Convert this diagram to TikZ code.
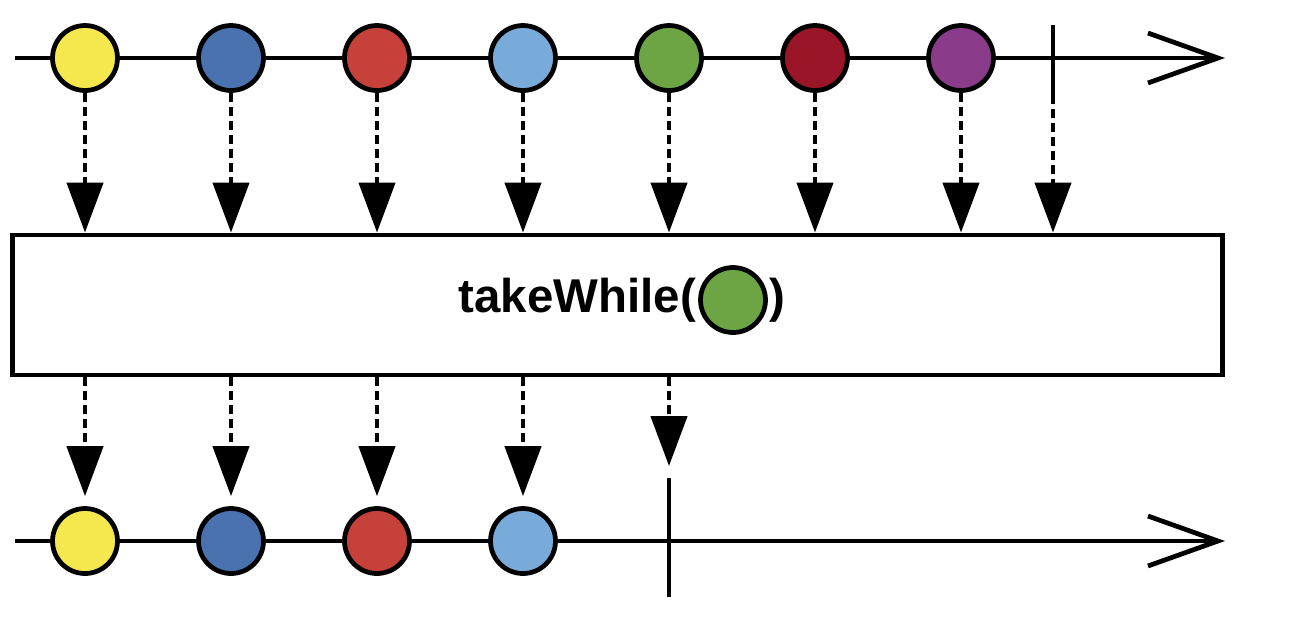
\documentclass[tikz,border=0pt]{standalone}
\usepackage{fontspec}
\setmainfont{Liberation Sans}
\usetikzlibrary{positioning,arrows.meta}

\definecolor{mYellow}{HTML}{F4E84E}
\definecolor{mBlue}{HTML}{4A72AE}
\definecolor{mRed}{HTML}{C5413A}
\definecolor{mSky}{HTML}{78AADA}
\definecolor{mGreen}{HTML}{6DA544}
\definecolor{mWine}{HTML}{9B1528}
\definecolor{mPurple}{HTML}{8A3C8A}

\tikzset{
	marble/.style={circle,draw,line width=2.7pt,minimum size=1.3cm,inner sep=0pt},
	timeline/.style={line width=2.7pt,-{Straight Barb[length=1.4cm,width=1.0cm,line width=2.7pt]}},
	emit/.style={line width=2.5pt,dash pattern=on 0.18cm off 0.1cm,-{Triangle[length=1cm,width=0.72cm]}},
	endtick/.style={line width=2.7pt},
	opbox/.style={draw,line width=2.8pt,minimum width=24.22cm,minimum height=2.8cm,inner sep=0pt}
}

\begin{document}
\begin{tikzpicture}[x=0.02cm,y=-0.02cm]
		\useasboundingbox (0,0) rectangle (1302,620);
		% source stream
		\coordinate (srcA) at (15,58);
		\coordinate (srcB) at (1225,58);
		\draw[timeline] (srcA) -- (srcB);
		\foreach \c [count=\i] in {mYellow,mBlue,mRed,mSky,mGreen,mWine,mPurple}{
			\node[marble,fill=\c] (t\i) at ({85+146*(\i-1)},58) {};
		}
		\coordinate (ttA) at (1053,25);
		\coordinate (ttB) at (1053,95);
		\draw[endtick] (ttA) -- (ttB);
		
		% operator
		\node[opbox] (op) at (617.5,305) {};
		\node[marble,fill=mGreen] (pm) at (733,300) {};
		\node[font=\bfseries\fontsize{27}{30}\selectfont,inner sep=0pt] (lbl) [left=1pt of pm] {takeWhile(};
		\node[font=\bfseries\fontsize{27}{30}\selectfont,inner sep=0pt] (rp) [right=1pt of pm] {)};
		
		\foreach \i in {1,...,7}{
			\draw[emit] (t\i) -- (t\i |- op.north);
		}
		\draw[emit] (ttB) -- (ttB |- op.north);
		
		% result stream
		\coordinate (resA) at (15,541);
		\coordinate (resB) at (1225,541);
		\draw[timeline] (resA) -- (resB);
		\foreach \c [count=\i] in {mYellow,mBlue,mRed,mSky}{
			\node[marble,fill=\c] (b\i) at ({85+146*(\i-1)},541) {};
			\draw[emit,shorten >=0.2cm] (b\i |- op.south) -- (b\i);
		}
		\coordinate (btA) at (669,478);
		\coordinate (btB) at (669,597);
		\draw[endtick] (btA) -- (btB);
		\draw[emit,shorten >=0.24cm] (btA |- op.south) -- (btA);
\end{tikzpicture}
\end{document}
